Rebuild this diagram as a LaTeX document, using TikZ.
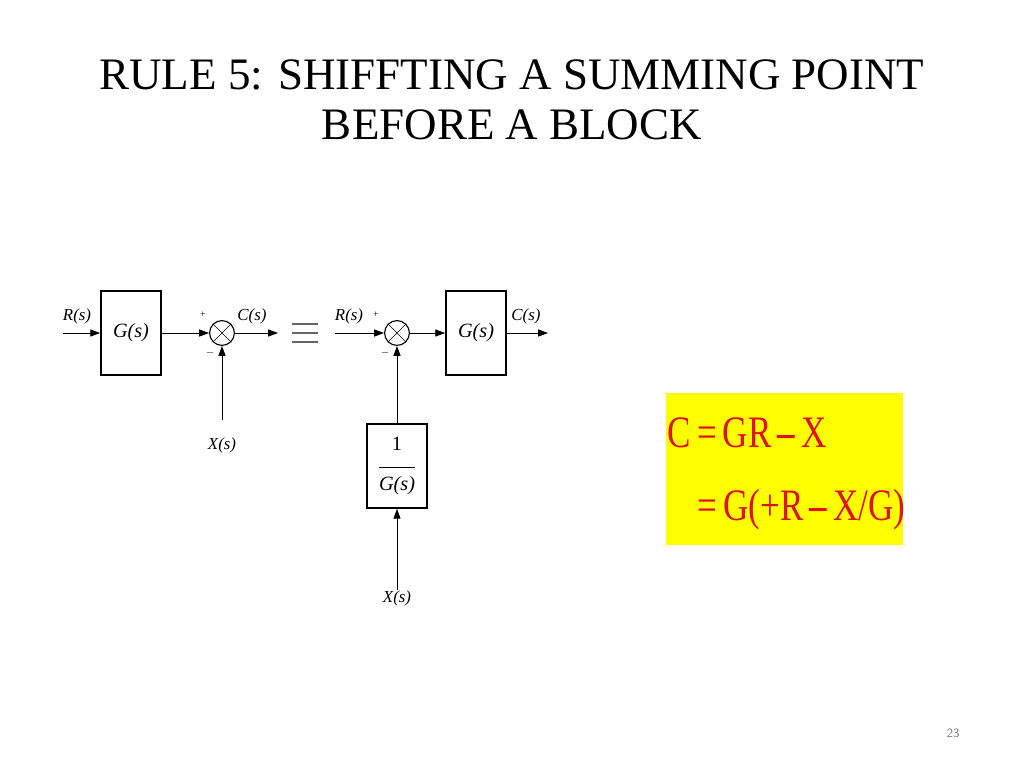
\documentclass[tikz,border=0pt]{standalone}
\usepackage{fontspec}
\setmainfont{Liberation Serif}
\usetikzlibrary{positioning, arrows.meta}
\definecolor{eqred}{RGB}{220,20,20}
\definecolor{eqyellow}{RGB}{255,255,0}
\tikzstyle{block} = [rectangle, draw=black, line width=1.2pt, minimum width=1.5cm, minimum height=2.1cm, font=\itshape\Large]
\tikzstyle{sum} = [circle, draw=black, line width=0.8pt, minimum size=0.62cm, inner sep=0pt]
\tikzstyle{arrow} = [draw, line width=0.6pt, -{Triangle[length=7pt,width=5pt]}]
\tikzstyle{lbl} = [font=\itshape\large, inner sep=1pt]
\tikzstyle{sgn} = [font=\scriptsize, inner sep=0pt]
\tikzstyle{eqn} = [anchor=west, text=eqred, xscale=0.78, transform shape, font=\fontsize{32}{32}\selectfont]
\begin{document}
\begin{tikzpicture}[x=0.025cm, y=-0.025cm]
\useasboundingbox (0,0) rectangle (1024,768);
% title
\node (title) at (512,100) [align=center, font=\fontsize{32}{36}\selectfont] {RULE 5: SHIFFTING A SUMMING POINT\\BEFORE A BLOCK};

% left diagram
\coordinate (inL) at (63,333);
\node (gL) [block] at (131,333) {G(s)};
\node (sumL) [sum] at (222,333) {};
\draw (sumL.north west) -- (sumL.south east) (sumL.north east) -- (sumL.south west);
\coordinate (outL) at (278,333);
\coordinate (xL) at (222,420);
\draw [arrow] (inL) -- (gL);
\draw [arrow] (gL) -- (sumL);
\draw [arrow] (sumL) -- (outL);
\draw [arrow, line width=0.4pt] (xL) -- (sumL);
\node (rsL) [lbl] at (77,316) {R(s)};
\node (csL) [lbl] at (252,316) {C(s)};
\node (xsL) [lbl] at (222,445) {X(s)};
\node (plL) [sgn] at (203,315) {+};
\node (miL) [sgn] at (210,353) {$-$};

% equivalence
\foreach \dy in {-9,0,9} \draw [line width=1.2pt, gray!80!black] (292,333+\dy) -- (318,333+\dy);

% right diagram
\coordinate (inR) at (335,333);
\node (sumR) [sum] at (397,333) {};
\draw (sumR.north west) -- (sumR.south east) (sumR.north east) -- (sumR.south west);
\node (gR) [block] at (476,333) {G(s)};
\coordinate (outR) at (548,333);
\node (ginv) [block, align=center] at (397,466) {\upshape 1\\[-6pt]\rule{0.9cm}{0.5pt}\\[-2pt]G(s)};
\coordinate (xR) at (397,590);
\draw [arrow] (inR) -- (sumR);
\draw [arrow] (sumR) -- (gR);
\draw [arrow] (gR) -- (outR);
\draw [arrow] (ginv) -- (sumR);
\draw [arrow, line width=0.4pt] (xR) -- (ginv);
\node (rsR) [lbl] at (349,316) {R(s)};
\node (csR) [lbl] at (526,316) {C(s)};
\node (xsR) [lbl] at (397,598) {X(s)};
\node (plR) [sgn] at (376,315) {+};
\node (miR) [sgn] at (385,353) {$-$};

% equations
\node (eqbox) [fill=eqyellow, minimum width=5.9cm, minimum height=3.8cm, inner sep=0pt] at (784.5,469) {};
\node (eq1) [eqn] at (664,433) {C\,=\,GR\,\textbf{–}\,X};
\node (eq2) [eqn] at (694,510) {=\,G(+R\,\textbf{–}\,X/G)};

% page number
\node (pgno) [text=gray, font=\small\sffamily] at (953,733) {23};
\end{tikzpicture}
\end{document}
